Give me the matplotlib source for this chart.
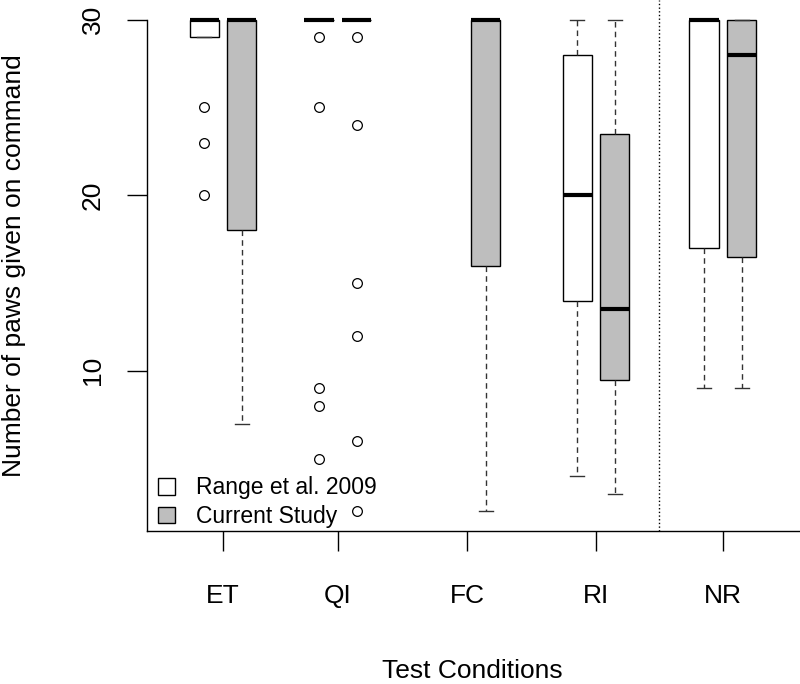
import matplotlib
matplotlib.use("Agg")
import matplotlib.pyplot as plt
from matplotlib.patches import Patch

plt.rcParams['font.family'] = ['Liberation Sans', 'DejaVu Sans']

# test conditions and where each group sits on the x axis
conditions = ['ET', 'QI', 'FC', 'RI', 'NR']
group_pos = [1.0, 1.898, 2.906, 3.914, 4.906]

# Range et al. 2009 (no FC condition)
range_whislo = [29, 30, None, 4, 9]
range_q1 = [29, 30, None, 14, 17]
range_med = [30, 30, None, 20, 30]
range_q3 = [30, 30, None, 28, 30]
range_whishi = [30, 30, None, 30, 30]
range_fliers = [[25, 23, 20], [29, 25, 9, 8, 5], [], [], []]

# Current Study
cur_whislo = [7, 30, 2, 3, 9]
cur_q1 = [18, 30, 16, 9.5, 16.5]
cur_med = [30, 30, 30, 13.5, 28]
cur_q3 = [30, 30, 30, 23.5, 30]
cur_whishi = [30, 30, 30, 30, 30]
cur_fliers = [[], [29, 24, 15, 12, 6, 2], [], [], []]

legend_labels = ['Range et al. 2009', 'Current Study']
colors = ['white', '#BEBEBE']

offset = 0.148
box_w = 0.227


def make_stats(whislo, q1, med, q3, whishi, fliers):
    stats, keep = [], []
    for i in range(len(med)):
        if med[i] is None:
            continue
        stats.append(dict(whislo=whislo[i], q1=q1[i], med=med[i], q3=q3[i],
                          whishi=whishi[i], fliers=fliers[i]))
        keep.append(i)
    return stats, keep


fig = plt.figure(figsize=(8, 6.84), dpi=100)
ax = fig.add_axes([147 / 800, 153 / 684, 653 / 800, 531 / 684])

series = [
    (make_stats(range_whislo, range_q1, range_med, range_q3, range_whishi, range_fliers), -offset, colors[0]),
    (make_stats(cur_whislo, cur_q1, cur_med, cur_q3, cur_whishi, cur_fliers), offset, colors[1]),
]

for (stats, keep), off, col in series:
    pos = [group_pos[i] + off for i in keep]
    ax.bxp(stats, positions=pos, widths=box_w, patch_artist=True, manage_ticks=False,
           boxprops=dict(facecolor=col, edgecolor='black', linewidth=1.0),
           medianprops=dict(color='black', linewidth=3, solid_capstyle='butt'),
           whiskerprops=dict(color='#333333', linestyle=(0, (4, 3)), linewidth=1.0),
           capprops=dict(color='#333333', linewidth=1.0),
           flierprops=dict(marker='o', markerfacecolor='none', markeredgecolor='black',
                           markersize=7, markeredgewidth=0.9))

# dotted separator between RI and NR
ax.axvline((group_pos[3] + group_pos[4]) / 2, color='black', linestyle=':', linewidth=1.0)

ax.set_xlim(0.406, 5.508)
ax.set_ylim(0.88, 31.12)
ax.set_xticks(group_pos)
ax.set_xticklabels(conditions)
ax.set_yticks([10, 20, 30])

for s in ['top', 'right']:
    ax.spines[s].set_visible(False)
ax.spines['left'].set_bounds(0.88, 30)
ax.spines['left'].set_linewidth(1.0)
ax.spines['bottom'].set_linewidth(1.0)

ax.tick_params(axis='x', length=14.4, width=1.0, pad=24, labelsize=19)
ax.tick_params(axis='y', length=14.4, width=1.0, pad=16, labelsize=19, labelrotation=90)
for lab in ax.get_yticklabels():
    lab.set_va('center')

fig.text(0.002, 0.612, 'Number of paws given on command', rotation=90,
         ha='left', va='center', fontsize=19)
fig.text(0.59, 0.002, 'Test Conditions', ha='center', va='bottom', fontsize=19)

handles = [Patch(facecolor=c, edgecolor='black', linewidth=1.0) for c in colors]
ax.legend(handles, legend_labels, loc='lower left', bbox_to_anchor=(0.0, -0.016),
          frameon=False, fontsize=16.5, handlelength=0.74, handleheight=0.74,
          handletextpad=0.9, labelspacing=0.25, borderpad=0.2, borderaxespad=0.3)

fig.savefig('out.png', dpi=100)
